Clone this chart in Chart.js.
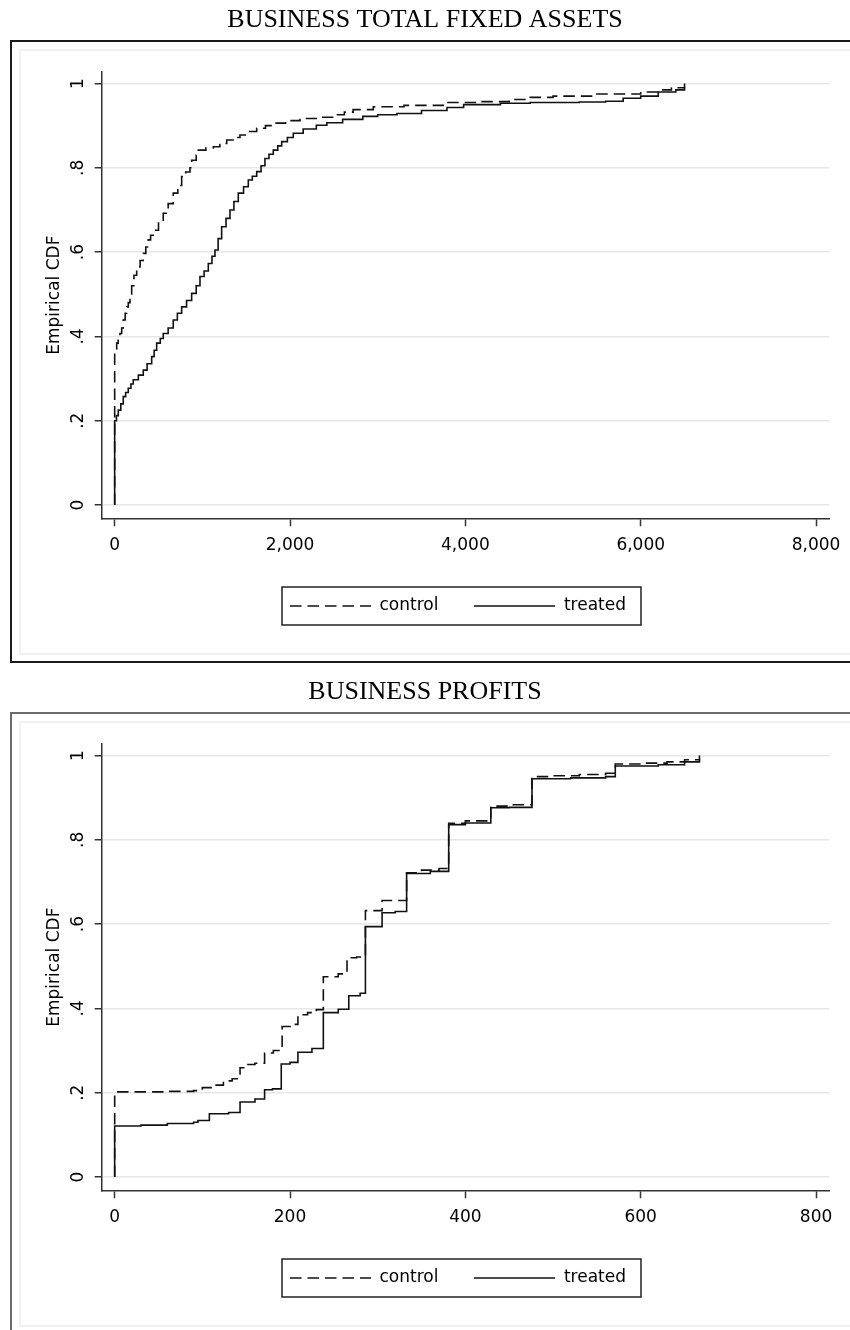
<!DOCTYPE html>
<html>
<head>
<meta charset="utf-8">
<script src="https://cdn.jsdelivr.net/npm/chart.js@4/dist/chart.umd.min.js"></script>
<style>
  html, body { margin: 0; padding: 0; background: #fff; width: 850px; height: 1330px; overflow: hidden; }
  canvas { position: absolute; left: 0; }
  #assets { top: 0; }
  #profits { top: 672px; }
</style>
</head>
<body>
<canvas id="assets" width="850" height="672"></canvas>
<canvas id="profits" width="850" height="672"></canvas>
<script>
// ---- Business total fixed assets: empirical CDF steps (value, cumulative share)
const assetsControlX = [0, 0, 10, 23, 40, 60, 80, 98, 120, 137, 155, 175, 194, 220, 251, 290, 326, 355, 383, 410,
  440, 500, 554, 610, 668, 720, 764, 810, 859, 878, 930, 954, 1040, 1125, 1200, 1278, 1350, 1429, 1520, 1620,
  1720, 1809, 1950, 2114, 2300, 2540, 2620, 2720, 2950, 3300, 3790, 4170, 4500, 4740, 5000, 5500, 6000, 6200, 6350, 6500];
const assetsControlF = [0, .36, .37, .384, .395, .407, .42, .439, .455, .47, .48, .50, .52, .545, .565, .58, .597, .612, .629, .64,
  .652, .672, .692, .715, .74, .758, .779, .79, .80, .818, .83, .842, .847, .85, .858, .866, .872, .878, .886, .894,
  .90, .906, .912, .917, .92, .926, .932, .938, .945, .948, .955, .957, .962, .967, .970, .975, .980, .985, .99, 1.0];

const assetsTreatedX = [0, 0, 20, 41, 70, 98, 125, 155, 185, 212, 270, 326, 370, 422, 450, 479, 520, 554, 610, 668,
  715, 764, 820, 878, 930, 973, 1020, 1068, 1110, 1144, 1180, 1220, 1270, 1315, 1360, 1410, 1470, 1524, 1570, 1620,
  1670, 1714, 1760, 1809, 1860, 1905, 1970, 2037, 2150, 2300, 2420, 2600, 2830, 3000, 3220, 3500, 3790, 3980, 4400, 4740,
  5300, 5600, 5800, 6000, 6200, 6400, 6500];
const assetsTreatedF = [0, .2, .212, .225, .24, .257, .267, .277, .287, .297, .308, .32, .335, .352, .367, .384, .395, .407, .42, .439,
  .455, .470, .485, .502, .52, .542, .555, .573, .59, .605, .632, .66, .68, .70, .72, .74, .755, .771, .78, .791,
  .805, .822, .832, .842, .852, .862, .872, .882, .892, .901, .907, .915, .922, .926, .929, .936, .943, .95, .953, .955,
  .956, .958, .965, .97, .98, .985, .99];

const assetsTicks = [0, 2000, 4000, 6000, 8000];
const assetsTickLabels = ['0', '2,000', '4,000', '6,000', '8,000'];

// ---- Business profits: empirical CDF steps
const profitsControlX = [0, 0, 60, 90, 100, 112, 124, 134, 143, 150, 160, 171, 181, 191, 200, 209, 220, 230, 238, 255,
  265, 276, 286, 305, 333, 350, 370, 381, 400, 429, 450, 476, 500, 530, 560, 571, 600, 630, 650, 667];
const profitsControlF = [0, .202, .203, .205, .212, .218, .228, .233, .259, .267, .27, .294, .30, .357, .362, .385, .39, .397, .475, .482,
  .52, .522, .632, .656, .722, .728, .732, .839, .845, .88, .883, .95, .952, .955, .958, .98, .982, .985, .99, 1.0];

const profitsTreatedX = [0, 0, 30, 60, 90, 95, 108, 130, 143, 160, 171, 180, 190, 200, 209, 225, 238, 255, 267, 280,
  286, 305, 320, 333, 360, 381, 400, 429, 450, 476, 520, 560, 571, 620, 650, 667];
const profitsTreatedF = [0, .121, .123, .127, .13, .134, .15, .153, .178, .185, .207, .209, .268, .272, .296, .305, .39, .398, .43, .436,
  .594, .627, .63, .72, .725, .836, .84, .876, .877, .945, .947, .95, .975, .978, .985, .99];

const profitsTicks = [0, 200, 400, 600, 800];
const profitsTickLabels = ['0', '200', '400', '600', '800'];

const cdfTicks = [0, .2, .4, .6, .8, 1];
const cdfTickLabels = ['0', '.2', '.4', '.6', '.8', '1'];
const seriesNames = ['control', 'treated'];

// ---- geometry of each panel (canvas pixels)
const AREA = { left: 101.7, right: 829.3, top: 72, bottom: 518.3 };
const PAD_SIDE = 20.7;
const PAD_BOTTOM = 21.5;
const LEGEND_ROW_Y = 606;
const LEGEND_PAD = 36;
const LEGEND_START_X = 290;
const KEY_WIDTH = 81;

const sansFont = { family: 'DejaVu Sans', size: 17 };
const INK = '#111';
const AXIS = '#333';
const CONTROL_DASH = [11.5, 6];

function toPoints(xs, fs) {
  return xs.map((x, i) => ({ x: x, y: fs[i] }));
}

// small line sample used as the legend key, so the dash pattern shows in the key
function keySample(dash) {
  const c = document.createElement('canvas');
  c.width = KEY_WIDTH;
  c.height = 4;
  const g = c.getContext('2d');
  g.strokeStyle = INK;
  g.lineWidth = 1.6;
  g.setLineDash(dash);
  g.beginPath();
  g.moveTo(0, 2);
  g.lineTo(KEY_WIDTH, 2);
  g.stroke();
  return c;
}
const controlKey = keySample(CONTROL_DASH);
const treatedKey = keySample([]);

const panelPlugin = {
  id: 'panelFrame',
  beforeDraw(chart, args, opts) {
    const ctx = chart.ctx;
    ctx.save();
    ctx.fillStyle = '#fff';
    ctx.fillRect(0, 0, chart.width, chart.height);
    ctx.strokeStyle = opts.outer || '#222';
    ctx.lineWidth = 2;
    ctx.strokeRect(11, 41, 900, 621);
    ctx.strokeStyle = '#ececec';
    ctx.lineWidth = 1.5;
    ctx.strokeRect(20, 50, 900, 604);
    ctx.restore();
  },
  afterLayout(chart) {
    const lg = chart.legend;
    if (!lg) return;
    lg.left = LEGEND_START_X - LEGEND_PAD;
    lg.right = AREA.right;
    lg.width = lg.right - lg.left;
    lg.top = LEGEND_ROW_Y - LEGEND_PAD - sansFont.size / 2;
    lg.bottom = lg.top + lg.height;
  },
  afterDraw(chart) {
    const lg = chart.legend;
    if (!lg || !lg.legendHitBoxes || !lg.legendHitBoxes.length) return;
    const hb = lg.legendHitBoxes;
    const last = hb[hb.length - 1];
    const l = hb[0].left - 8;
    const r = last.left + last.width + 15;
    const ctx = chart.ctx;
    ctx.save();
    ctx.strokeStyle = '#222';
    ctx.lineWidth = 1.5;
    ctx.setLineDash([]);
    ctx.strokeRect(l, LEGEND_ROW_Y - 19, r - l, 38);
    ctx.restore();
  }
};

function makePanel(id, title, xMin, xMax, xTicks, xLabels, control, treated, frameColor) {
  return new Chart(document.getElementById(id), {
    type: 'line',
    data: {
      datasets: [
        {
          label: seriesNames[0],
          data: toPoints(control[0], control[1]),
          borderColor: INK,
          backgroundColor: INK,
          borderWidth: 1.6,
          borderDash: CONTROL_DASH,
          stepped: 'before',
          pointRadius: 0,
          pointStyle: controlKey,
          fill: false
        },
        {
          label: seriesNames[1],
          data: toPoints(treated[0], treated[1]),
          borderColor: INK,
          backgroundColor: INK,
          borderWidth: 1.6,
          stepped: 'before',
          pointRadius: 0,
          pointStyle: treatedKey,
          fill: false
        }
      ]
    },
    options: {
      responsive: false,
      animation: false,
      devicePixelRatio: 1,
      layout: { padding: { left: PAD_SIDE, right: PAD_SIDE, top: 0, bottom: PAD_BOTTOM } },
      plugins: {
        panelFrame: { outer: frameColor },
        tooltip: { enabled: false },
        title: {
          display: true,
          text: title,
          color: '#000',
          font: { family: 'Liberation Serif', size: 26, weight: 'normal', lineHeight: 1 },
          padding: { top: 7.5, bottom: 38.5 }
        },
        legend: {
          display: true,
          position: 'bottom',
          align: 'start',
          labels: {
            color: '#000',
            font: sansFont,
            usePointStyle: true,
            pointStyleWidth: KEY_WIDTH,
            padding: LEGEND_PAD
          }
        }
      },
      scales: {
        x: {
          type: 'linear',
          min: xMin,
          max: xMax,
          afterBuildTicks: s => { s.ticks = xTicks.map(v => ({ value: v })); },
          afterFit: s => { s.height = s.chart.height - PAD_BOTTOM - s.chart.legend.height - AREA.bottom; },
          ticks: {
            autoSkip: false,
            minRotation: 0,
            maxRotation: 0,
            padding: 9,
            color: '#000',
            font: sansFont,
            callback: (v, i) => xLabels[i]
          },
          grid: { drawOnChartArea: false, drawTicks: true, tickLength: 8, tickColor: AXIS, tickWidth: 1.5 },
          border: { display: true, color: AXIS, width: 1.5 }
        },
        y: {
          type: 'linear',
          min: -0.0316,
          max: 1.0273,
          afterBuildTicks: s => { s.ticks = cdfTicks.map(v => ({ value: v })); },
          afterFit: s => { s.width = AREA.left - PAD_SIDE; },
          ticks: {
            autoSkip: false,
            minRotation: 90,
            maxRotation: 90,
            crossAlign: 'center',
            padding: 7.6,
            color: '#000',
            font: sansFont,
            callback: (v, i) => cdfTickLabels[i]
          },
          grid: { color: '#e6e6e6', lineWidth: 1.5, drawTicks: true, tickLength: 7, tickColor: AXIS, tickWidth: 1.5 },
          border: { display: true, color: AXIS, width: 1.5 },
          title: {
            display: true,
            text: 'Empirical CDF',
            color: '#000',
            font: sansFont,
            padding: { top: 24, bottom: 0 }
          }
        }
      }
    },
    plugins: [panelPlugin]
  });
}

makePanel('assets', 'BUSINESS TOTAL FIXED ASSETS', -148, 8151, assetsTicks, assetsTickLabels,
  [assetsControlX, assetsControlF], [assetsTreatedX, assetsTreatedF], '#1a1a1a');
makePanel('profits', 'BUSINESS PROFITS', -14.8, 815.1, profitsTicks, profitsTickLabels,
  [profitsControlX, profitsControlF], [profitsTreatedX, profitsTreatedF], '#6a6a6a');
</script>
</body>
</html>
